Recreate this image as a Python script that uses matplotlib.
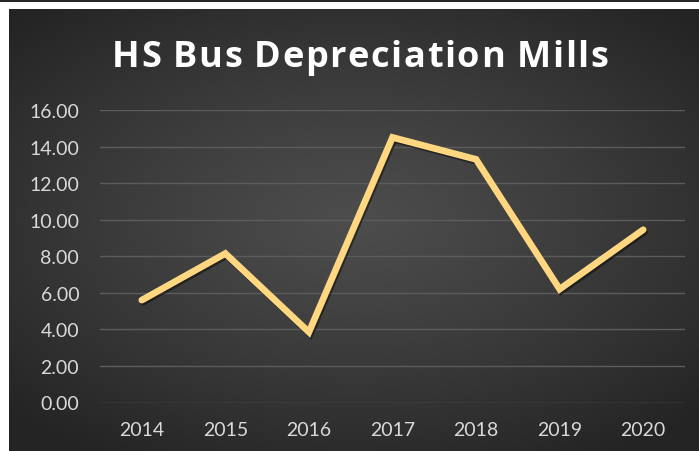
import numpy as np
import matplotlib
matplotlib.use("Agg")
from matplotlib import pyplot as plt
from matplotlib import patheffects as pe

# data
years = ["2014", "2015", "2016", "2017", "2018", "2019", "2020"]
mills = [5.6, 8.15, 3.85, 14.5, 13.3, 6.2, 9.45]
yticks = [0, 2, 4, 6, 8, 10, 12, 14, 16]

W, H = 699, 452
fig = plt.figure(figsize=(W / 100, H / 100), dpi=100, facecolor="white")

# dark strip along the very top
strip = fig.add_axes([0, 1 - 3 / H, 1, 3 / H])
strip.set_facecolor("#262626")
strip.set_xticks([])
strip.set_yticks([])
for s in strip.spines.values():
    s.set_visible(False)

# chart area with radial gradient background
bg = fig.add_axes([9 / W, 0, (W - 9) / W, (H - 10) / H])
gx, gy = np.meshgrid(np.linspace(-1, 1, 690), np.linspace(-1, 1, 442))
r = np.sqrt((gx * 0.95) ** 2 + ((gy + 0.05) * 1.05) ** 2)
shade = 0.30 - 0.155 * np.clip(r / 1.3, 0, 1) ** 1.2
bg.imshow(np.dstack([shade] * 3), aspect="auto", extent=[0, 1, 0, 1])
bg.set_axis_off()

# plot axes
ax = fig.add_axes([100 / W, 48.5 / H, 585 / W, 292.5 / H])
ax.patch.set_alpha(0)
x = np.arange(len(years))
ax.plot(x, mills, color="#ffd780", lw=4.8, solid_joinstyle="miter", solid_capstyle="round",
        path_effects=[pe.SimpleLineShadow(offset=(1, -1.5), shadow_color="black", alpha=0.45),
                      pe.Normal()], zorder=3)

ax.set_xlim(-0.5, len(years) - 0.5)
ax.set_ylim(0, 16)
ax.set_yticks(yticks)
ax.set_yticklabels([f"{v:.2f}" for v in yticks])
ax.set_xticks(x)
ax.set_xticklabels(years)
ax.grid(axis="y", color="#5c5c5c", lw=1.0)
ax.set_axisbelow(True)
for s in ax.spines.values():
    s.set_visible(False)
ax.tick_params(length=0, labelcolor="#d9d9d9", labelsize=14)
ax.tick_params(axis="y", pad=15)
ax.tick_params(axis="x", pad=13)
for lab in ax.get_xticklabels() + ax.get_yticklabels():
    lab.set_family("Lato")

# title, spread out letter by letter
title = "HS Bus Depreciation Mills"
spacing = 1.6
fig.canvas.draw()
r_ = fig.canvas.get_renderer()
pieces = []
for ch in title:
    t = fig.text(0, 0, ch, color="white", fontsize=26, fontweight="bold",
                 family="Open Sans", ha="left", va="center")
    pieces.append((t, t.get_window_extent(r_).width if ch != " " else 8.5))
total = sum(w for _, w in pieces) + spacing * (len(pieces) - 1)
xpos = 360 - total / 2
for t, w in pieces:
    t.set_position((xpos / W, 1 - 58 / H))
    xpos += w + spacing

fig.savefig("out.png", dpi=100, facecolor="white")
